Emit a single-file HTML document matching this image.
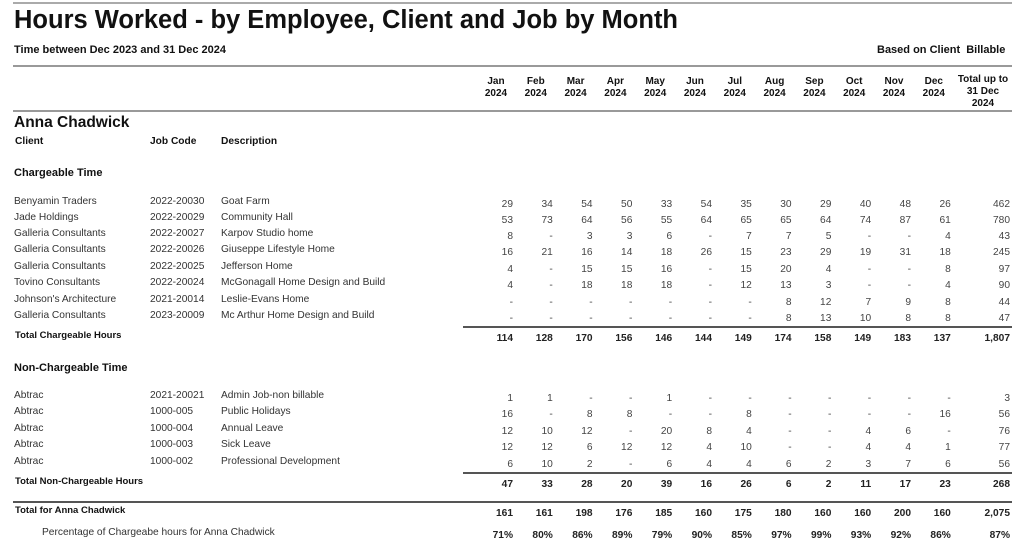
<!DOCTYPE html>
<html><head><meta charset="utf-8"><style>
html,body{margin:0;padding:0;background:#fff;width:1024px;height:551px;overflow:hidden;position:relative;font-family:"Liberation Sans",Arial,sans-serif;color:#111}
.a{position:absolute;white-space:nowrap;font-size:10.2px;line-height:12px}
.b{font-weight:bold}
.n{text-align:right;width:40px;color:#444}
.nb{text-align:right;width:40px;font-weight:bold;color:#222}
.h{text-align:center;width:40px;font-weight:bold;font-size:10px;line-height:12px}
.l{position:absolute;background:#888}
</style></head><body>
<div class="l" style="left:13px;top:2px;width:999px;height:2px;background:#aaa"></div>
<div class="a b" style="left:14px;top:5px;font-size:25.5px;line-height:30px">Hours Worked - by Employee, Client and Job by Month</div>
<div class="a b" style="left:14px;top:44px;font-size:11px;line-height:13px">Time between Dec 2023 and 31 Dec 2024</div>
<div class="a b" style="left:877px;top:44px;font-size:11px;line-height:13px">Based on Client&nbsp; Billable</div>
<div class="l" style="left:13px;top:65px;width:999px;height:2px;background:#999"></div>
<div class="l" style="left:13px;top:110px;width:999px;height:2px;background:#999"></div>
<div class="a b" style="left:14px;top:114px;font-size:15.5px;line-height:18px">Anna Chadwick</div>
<div class="a b" style="left:15px;top:136px">Client</div>
<div class="a b" style="left:150px;top:136px">Job Code</div>
<div class="a b" style="left:221px;top:136px">Description</div>
<div class="a b" style="left:14px;top:167px;font-size:11px">Chargeable Time</div>
<div class="a b" style="left:14px;top:362px;font-size:11px">Non-Chargeable Time</div>
<div class="a b" style="left:15px;top:330px;font-size:9.5px">Total Chargeable Hours</div>
<div class="a b" style="left:15px;top:476px;font-size:9.5px">Total Non-Chargeable Hours</div>
<div class="a b" style="left:15px;top:505px;font-size:9.5px">Total for Anna Chadwick</div>
<div class="a" style="left:42px;top:527px;color:#333">Percentage of Chargeabe hours for Anna Chadwick</div>
<div class="l" style="left:463px;top:326px;width:549px;height:2px;background:#555"></div>
<div class="l" style="left:463px;top:472px;width:549px;height:2px;background:#555"></div>
<div class="l" style="left:13px;top:501px;width:999px;height:2px;background:#555"></div>
<div id="c"></div>
<script>
var c=document.getElementById('c'),h='';
var mon=['Jan','Feb','Mar','Apr','May','Jun','Jul','Aug','Sep','Oct','Nov','Dec'];
function R(i){return 513+i*39.8;}
for(var i=0;i<12;i++){h+='<div class="a h" style="left:'+(R(i)-37)+'px;top:76px">'+mon[i]+'<br>2024</div>';}
h+='<div class="a h" style="left:953px;top:74px;width:60px">Total up to<br>31 Dec<br>2024</div>';
var rows=[
[196,'Benyamin Traders','2022-20030','Goat Farm','29 34 54 50 33 54 35 30 29 40 48 26 462'],
[212,'Jade Holdings','2022-20029','Community Hall','53 73 64 56 55 64 65 65 64 74 87 61 780'],
[228,'Galleria Consultants','2022-20027','Karpov Studio home','8 - 3 3 6 - 7 7 5 - - 4 43'],
[244,'Galleria Consultants','2022-20026','Giuseppe Lifestyle Home','16 21 16 14 18 26 15 23 29 19 31 18 245'],
[261,'Galleria Consultants','2022-20025','Jefferson Home','4 - 15 15 16 - 15 20 4 - - 8 97'],
[277,'Tovino Consultants','2022-20024','McGonagall Home Design and Build','4 - 18 18 18 - 12 13 3 - - 4 90'],
[294,'Johnson\'s Architecture','2021-20014','Leslie-Evans Home','- - - - - - - 8 12 7 9 8 44'],
[310,'Galleria Consultants','2023-20009','Mc Arthur Home Design and Build','- - - - - - - 8 13 10 8 8 47'],
[390,'Abtrac','2021-20021','Admin Job-non billable','1 1 - - 1 - - - - - - - 3'],
[406,'Abtrac','1000-005','Public Holidays','16 - 8 8 - - 8 - - - - 16 56'],
[423,'Abtrac','1000-004','Annual Leave','12 10 12 - 20 8 4 - - 4 6 - 76'],
[439,'Abtrac','1000-003','Sick Leave','12 12 6 12 12 4 10 - - 4 4 1 77'],
[456,'Abtrac','1000-002','Professional Development','6 10 2 - 6 4 4 6 2 3 7 6 56']];
rows.forEach(function(r){
 h+='<div class="a" style="left:14px;top:'+r[0]+'px;color:#333">'+r[1]+'</div>';
 h+='<div class="a" style="left:150px;top:'+r[0]+'px;color:#333">'+r[2]+'</div>';
 h+='<div class="a" style="left:221px;top:'+r[0]+'px;color:#333">'+r[3]+'</div>';
 var v=r[4].split(' '),t=r[0]+3;
 for(var i=0;i<12;i++)h+='<div class="a n" style="left:'+(R(i)-40)+'px;top:'+t+'px">'+v[i]+'</div>';
 h+='<div class="a n" style="left:970px;top:'+t+'px">'+v[12]+'</div>';
});
var tots=[[333,'114 128 170 156 146 144 149 174 158 149 183 137 1,807'],
[479,'47 33 28 20 39 16 26 6 2 11 17 23 268'],
[508,'161 161 198 176 185 160 175 180 160 160 200 160 2,075'],
[530,'71% 80% 86% 89% 79% 90% 85% 97% 99% 93% 92% 86% 87%']];
tots.forEach(function(r){var v=r[1].split(' ');
 for(var i=0;i<12;i++)h+='<div class="a nb" style="left:'+(R(i)-40)+'px;top:'+r[0]+'px">'+v[i]+'</div>';
 h+='<div class="a nb" style="left:970px;top:'+r[0]+'px">'+v[12]+'</div>';});
c.innerHTML=h;
</script>
</body></html>
